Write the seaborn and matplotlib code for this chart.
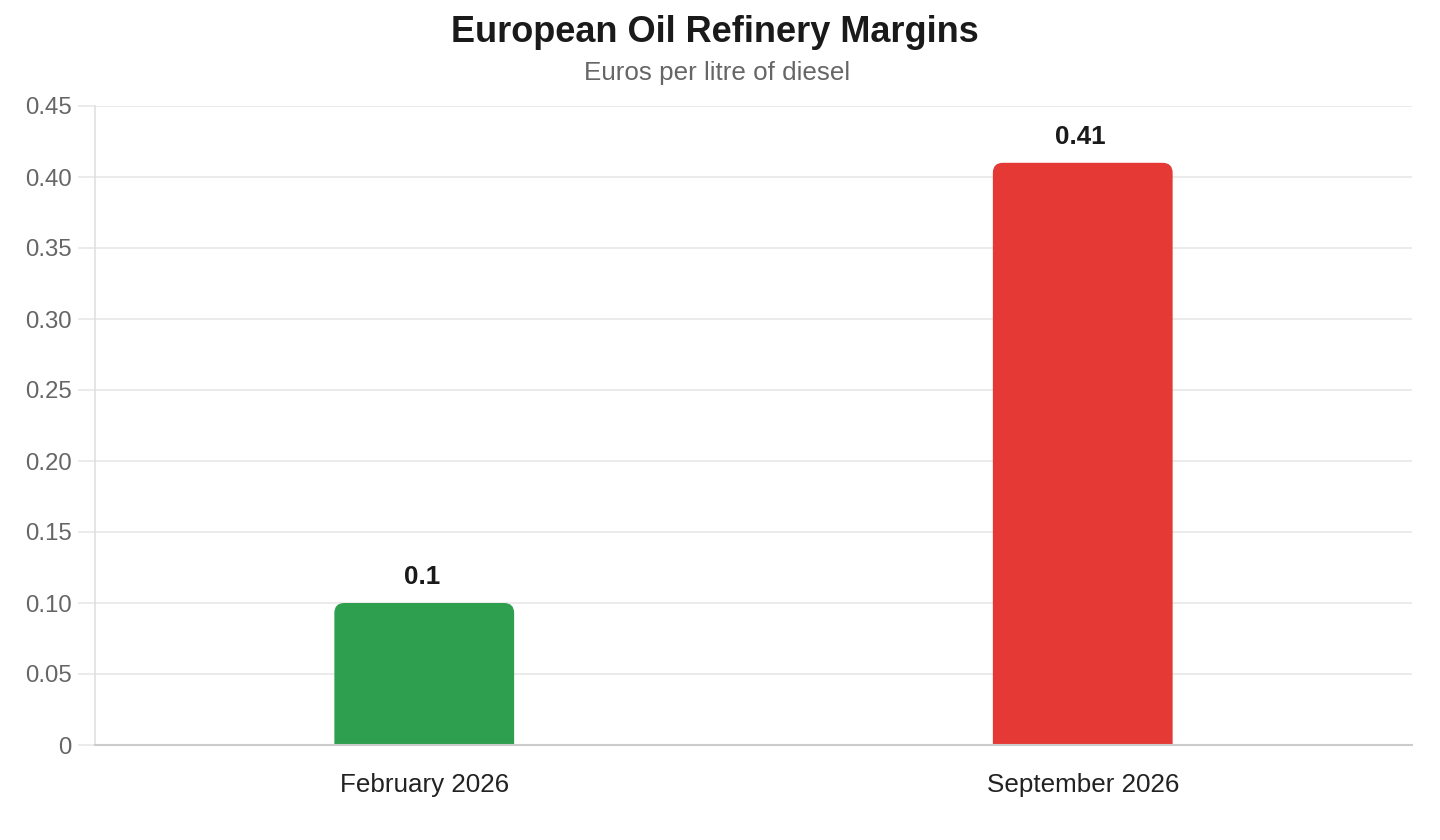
import matplotlib
matplotlib.use("Agg")
import matplotlib.pyplot as plt
import seaborn as sns
import pandas as pd
from matplotlib.patches import FancyBboxPatch

categories = ["February 2026", "September 2026"]
values = [0.10, 0.41]
value_labels = ["0.1", "0.41"]
bar_colors = ["#2e9e4f", "#e53935"]
y_ticks = [0, 0.05, 0.10, 0.15, 0.20, 0.25, 0.30, 0.35, 0.40, 0.45]
y_tick_labels = ["0", "0.05", "0.10", "0.15", "0.20", "0.25", "0.30", "0.35", "0.40", "0.45"]
title = "European Oil Refinery Margins"
subtitle = "Euros per litre of diesel"

sns.set_theme(style="white")
plt.rcParams["font.family"] = ["Liberation Sans", "DejaVu Sans"]

df = pd.DataFrame({"cat": categories, "val": values})

fig = plt.figure(figsize=(14.4, 8.4), dpi=100)
ax = fig.add_axes([95 / 1440, 1 - 745 / 840, (1412 - 95) / 1440, (745 - 106) / 840])

sns.barplot(data=df, x="cat", y="val", hue="cat", palette=bar_colors,
            width=0.273, legend=False, ax=ax, saturation=1)

ax.set_xlim(-0.5, 1.5)
ax.set_ylim(0, 0.45)

# rounded top corners
px_x = ax.get_window_extent().width / 2.0
px_y = ax.get_window_extent().height / 0.45
aspect = px_x / px_y
r = 10 / px_x
for p in list(ax.patches):
    x0, w, h = p.get_x(), p.get_width(), p.get_height()
    fc = p.get_facecolor()
    p.set_visible(False)
    ext = 0.03
    fb = FancyBboxPatch((x0, -ext), w, h + ext,
                        boxstyle=f"round,pad=0,rounding_size={r}",
                        mutation_aspect=aspect, facecolor=fc, edgecolor="none",
                        zorder=2)
    ax.add_patch(fb)

for i, (v, lab) in enumerate(zip(values, value_labels)):
    ax.annotate(lab, (i, v), xytext=(-2, 14), textcoords="offset pixels",
                ha="center", va="bottom", fontsize=18.7, fontweight="bold",
                color="#1a1a1a")

ax.set_yticks(y_ticks)
ax.set_yticklabels(y_tick_labels)
ax.grid(axis="y", color="#e8e8e8", linewidth=1.2)
ax.set_axisbelow(True)
ax.tick_params(axis="y", length=12, width=1.2, color="#e8e8e8", labelsize=17.3,
               labelcolor="#666666", pad=5, left=True)
ax.tick_params(axis="x", length=0, labelsize=18.7, labelcolor="#222222", pad=20)
ax.set_xlabel("")
ax.set_ylabel("")
for s in ["top", "right"]:
    ax.spines[s].set_visible(False)
ax.spines["left"].set_color("#e0e0e0")
ax.spines["left"].set_linewidth(1.2)
ax.spines["bottom"].set_color("#cccccc")
ax.spines["bottom"].set_linewidth(1.5)

fig.text(715 / 1440, 1 - 33 / 840, title, ha="center", va="center",
         fontsize=26, fontweight="bold", color="#1a1a1a")
fig.text(717 / 1440, 1 - 73 / 840, subtitle, ha="center", va="center",
         fontsize=18.7, color="#666666")

fig.savefig("out.png", dpi=100, facecolor="white")
